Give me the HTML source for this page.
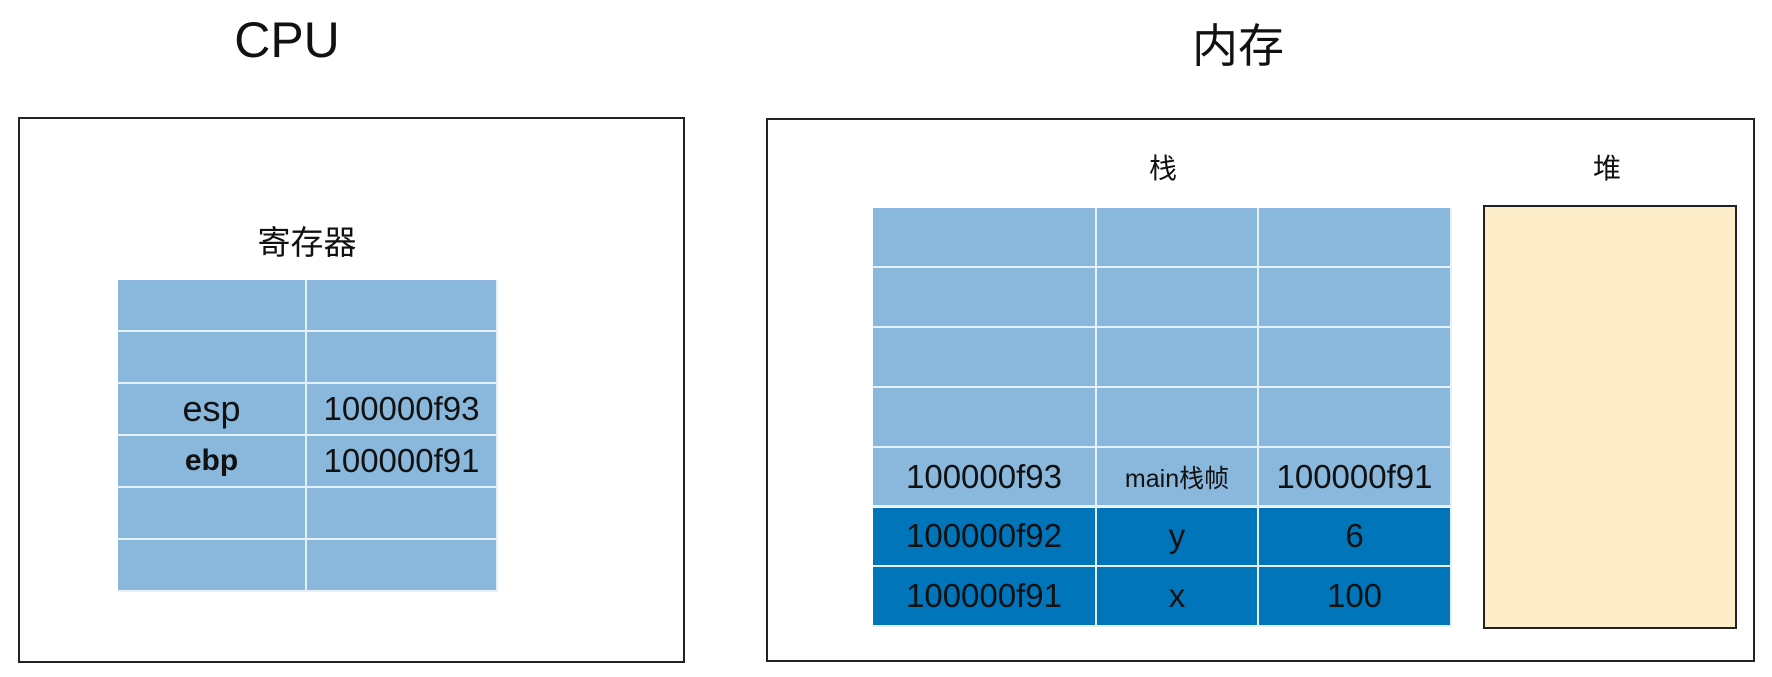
<!DOCTYPE html>
<html><head><meta charset="utf-8"><style>
body{margin:0;width:1772px;height:677px;background:#fff;position:relative;overflow:hidden;font-family:"Liberation Sans","Noto Sans CJK SC",sans-serif;color:#111}
.box{position:absolute;border:2px solid #222;box-sizing:border-box}
.t{position:absolute;text-align:center;transform:translate(-50%,-50%);white-space:nowrap}
.cell{position:absolute;box-sizing:border-box;display:flex;align-items:center;justify-content:center;font-size:33px;border-right:2px solid #e6f0f8;border-bottom:2px solid #e6f0f8}
</style></head><body>
<div class="t" style="left:287px;top:40px;font-size:50px">CPU</div>
<div class="t" style="left:1238px;top:43px;font-size:46px">内存</div>
<div class="box" style="left:18px;top:117px;width:667px;height:546px"></div>
<div class="box" style="left:766px;top:118px;width:989px;height:544px"></div>
<div class="t" style="left:307px;top:240px;font-size:33px">寄存器</div>
<div class="t" style="left:1163px;top:167px;font-size:28px">栈</div>
<div class="t" style="left:1607px;top:167px;font-size:28px">堆</div>
<div class="box" style="left:1483px;top:205px;width:254px;height:424px;background:#fcedc8"></div>
<div id="reg"></div>
<div id="stk"></div>
<script>
const regCols=[118,307,498];
const regTop=280, regRowH=52;
const regRows=[["",""],["",""],["esp","100000f93"],["ebp","100000f91"],["",""],["",""]];
const stkCols=[873,1097,1259,1452];
const stkTop=208, stkRowH=59.9;
const stkRows=[["","",""],["","",""],["","",""],["","",""],["100000f93","main栈帧","100000f91"],["100000f92","y","6"],["100000f91","x","100"]];
const stkDark=[0,0,0,0,0,1,1];
function build(host,cols,top,rh,rows,dark,prefix){
  rows.forEach((r,i)=>{
    r.forEach((txt,j)=>{
      const c=document.createElement('div');
      c.className='cell';
      
      
      c.style.left=cols[j]+'px';c.style.top=(top+i*rh)+'px';
      c.style.width=(cols[j+1]-cols[j])+'px';c.style.height=rh+'px';
      c.style.background=(dark&&dark[i])?'#0175ba':'#89b8dc';
      if(txt==='main栈帧')c.style.fontSize='25px';
      if(txt==='esp'){c.style.fontSize='36px';}
      if(txt==='ebp'){c.style.fontWeight='bold';c.style.fontSize='30px';}
      c.textContent=txt;
      host.appendChild(c);
    });
  });
}
build(document.getElementById('reg'),regCols,regTop,regRowH,regRows,null,'register');
build(document.getElementById('stk'),stkCols,stkTop,stkRowH,stkRows,stkDark,'stack');
</script>
</body></html>
